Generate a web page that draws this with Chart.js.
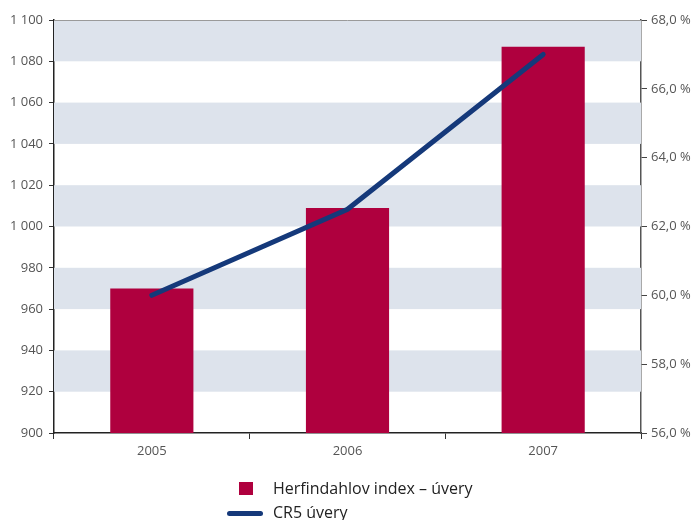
<!DOCTYPE html>
<html>
<head>
<meta charset="utf-8">
<script src="https://cdn.jsdelivr.net/npm/chart.js@4.4.1/dist/chart.umd.min.js"></script>
<style>
    body { margin: 0; background: #fff; }
    #wrap { position: relative; width: 693px; height: 520px; overflow: hidden; }
    #legend { position: absolute; left: 0; top: 0; font-family: "Open Sans", sans-serif; font-size: 16px; color: #222; }
    .lg-item { position: absolute; white-space: nowrap; }
    .lg-box { position: absolute; width: 14px; height: 13px; background: #af003e; }
    .lg-line { position: absolute; width: 36px; height: 5px; border-radius: 3px; background: #15397a; }
</style>
</head>
<body>
<div id="wrap">
    <canvas id="chart" width="693" height="520"></canvas>
    <div id="legend"></div>
</div>
<script>
var years = ["2005", "2006", "2007"];
var hhiValues = [970, 1009, 1087];
var cr5Values = [60.0, 62.5, 67.0];
var hhiLabel = "Herfindahlov index – úvery";
var cr5Label = "CR5 úvery";

var barColor = "#af003e";
var lineColor = "#15397a";
var bandColor = "#dde3ec";

// light stripes behind the bars, every other 20-point step
var stripes = {
    id: "stripes",
    beforeDatasetsDraw: function (chart) {
        var ctx = chart.ctx;
        var area = chart.chartArea;
        var y = chart.scales.y;
        ctx.save();
        ctx.fillStyle = bandColor;
        for (var v = 920; v < 1100; v += 40) {
            var top = y.getPixelForValue(v + 20);
            var bottom = y.getPixelForValue(v);
            ctx.fillRect(area.left, top, area.right - area.left, bottom - top);
        }
        ctx.strokeStyle = "#9a9a9a";
        ctx.lineWidth = 1;
        ctx.beginPath();
        ctx.moveTo(area.left, Math.round(area.top) + 0.5);
        ctx.lineTo(area.right, Math.round(area.top) + 0.5);
        ctx.stroke();
        ctx.restore();
    }
};

var tickFont = { family: "'Open Sans', sans-serif", size: 13 };

var ctx = document.getElementById("chart").getContext("2d");
var chart = new Chart(ctx, {
    type: "bar",
    data: {
        labels: years,
        datasets: [{
            type: "line",
            label: cr5Label,
            data: cr5Values,
            yAxisID: "y1",
            borderColor: lineColor,
            borderWidth: 5,
            borderCapStyle: "round",
            pointRadius: 0,
            tension: 0,
            order: 1
        }, {
            label: hhiLabel,
            data: hhiValues,
            yAxisID: "y",
            backgroundColor: barColor,
            categoryPercentage: 1,
            barPercentage: 0.425,
            order: 2
        }]
    },
    options: {
        responsive: false,
        animation: false,
        layout: { padding: { top: 20, left: 0, right: 0, bottom: 0 } },
        plugins: {
            legend: { display: false },
            tooltip: { enabled: false }
        },
        scales: {
            x: {
                grid: { offset: true, drawOnChartArea: false, tickLength: 6, color: "#333" },
                border: { color: "#222", width: 1.5 },
                ticks: { font: tickFont, color: "#555", padding: 4 },
                afterFit: function (s) { s.height = 87; }
            },
            y: {
                position: "left",
                min: 900,
                max: 1100,
                grid: { drawOnChartArea: false, tickLength: 5, color: "#333" },
                border: { color: "#222", width: 1.5 },
                ticks: {
                    stepSize: 20,
                    font: tickFont,
                    color: "#555",
                    padding: 6,
                    callback: function (v) {
                        return v >= 1000 ? Math.floor(v / 1000) + " " + String(v % 1000).padStart(3, "0") : String(v);
                    }
                },
                afterFit: function (s) { s.width = 54; }
            },
            y1: {
                position: "right",
                min: 56,
                max: 68,
                grid: { drawOnChartArea: false, tickLength: 6, color: "#444" },
                border: { color: "#555", width: 1.5 },
                ticks: {
                    stepSize: 2,
                    font: tickFont,
                    color: "#555",
                    padding: 4,
                    callback: function (v) { return v.toFixed(1).replace(".", ",") + " %"; }
                },
                afterFit: function (s) { s.width = 52; }
            }
        }
    },
    plugins: [stripes]
});

// legend stacked under the plot
var legend = document.getElementById("legend");
legend.innerHTML =
    '<div class="lg-box" style="left:239px;top:482px"></div>' +
    '<div class="lg-item" style="left:273px;top:477px">' + hhiLabel + '</div>' +
    '<div class="lg-line" style="left:227px;top:511px"></div>' +
    '<div class="lg-item" style="left:273px;top:501px">' + cr5Label + '</div>';
</script>
</body>
</html>
